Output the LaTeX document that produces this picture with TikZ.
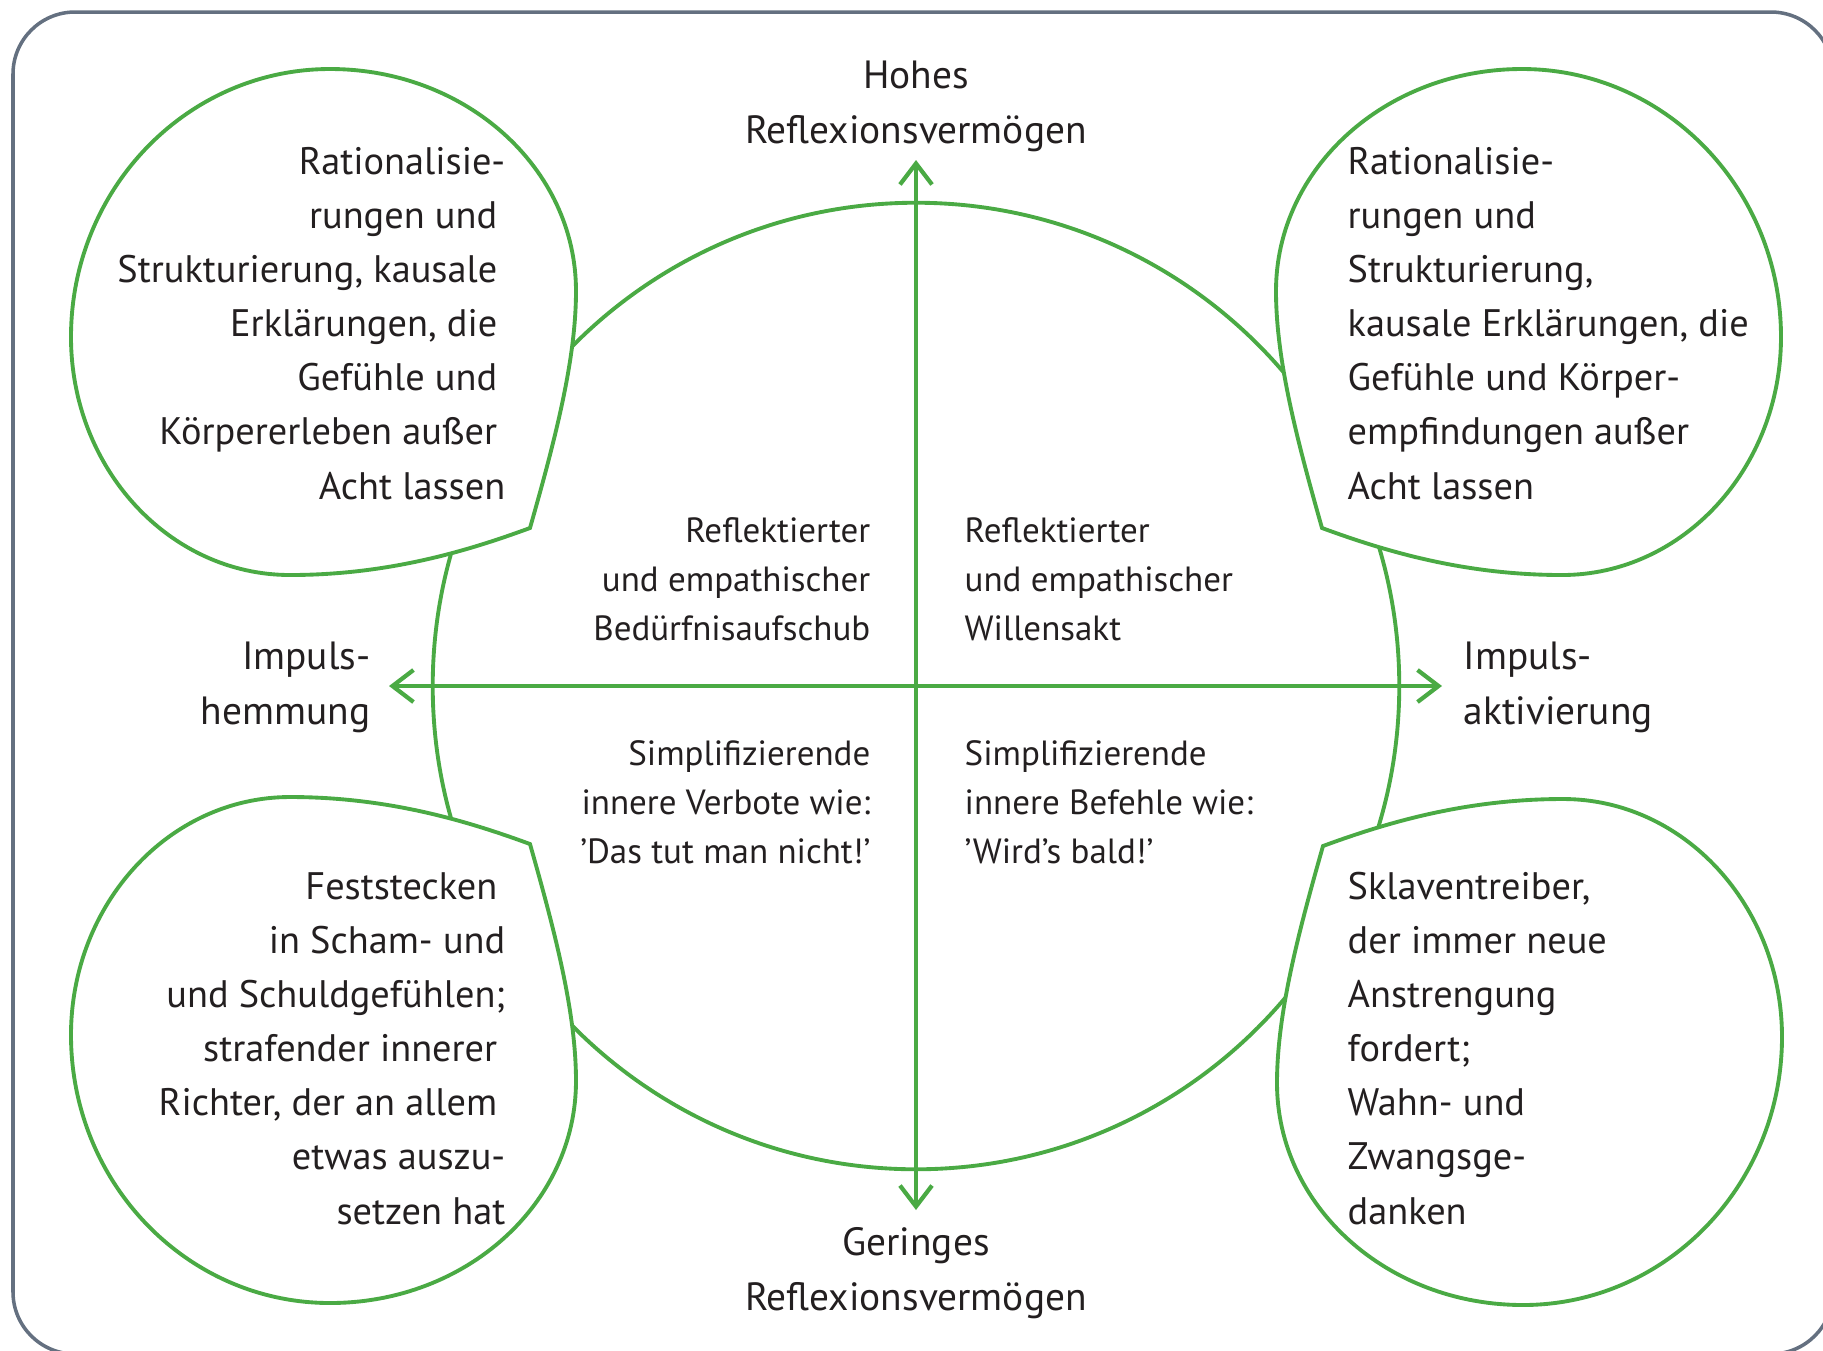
\documentclass[tikz,border=0pt]{standalone}
\usepackage{fontspec}
\setmainfont{PT Sans}
\usetikzlibrary{arrows.meta}

\definecolor{gruen}{RGB}{74,170,68}
\definecolor{rand}{RGB}{100,112,128}
\definecolor{schrift}{RGB}{35,31,32}

% Umriss einer Sprechblase, Spitze im Ursprung
\newcommand{\blase}{(0,0) .. controls (25,-88) and (46,-168) .. (46,-237)
  .. controls (46,-360) and (-64,-459) .. (-200,-459)
  .. controls (-343,-459) and (-459,-339) .. (-459,-191)
  .. controls (-459,-60) and (-361,47) .. (-240,47)
  .. controls (-140,47) and (-60,22) .. (0,0) -- cycle}
\newcommand{\tgap}{\kern.21em}

\begin{document}
\begin{tikzpicture}[x=0.01cm, y=-0.01cm,
  linie/.style = {draw=gruen, line width=1.1pt},
  blasenform/.style = {linie, fill=white},
  achse/.style = {draw=gruen, line width=1.2pt, {Straight Barb[length=2.1mm,width=3.2mm]}-{Straight Barb[length=2.1mm,width=3.2mm]}},
  gross/.style = {font=\fontsize{10.9}{15.4}\selectfont, text=schrift, inner sep=0pt},
  achstext/.style = {font=\fontsize{11.2}{15.4}\selectfont, text=schrift, inner sep=0pt},
  klein/.style = {font=\fontsize{9.95}{13.9}\selectfont, text=schrift, inner sep=0pt}]
  \useasboundingbox (0,0) rectangle (1823,1350);
  \draw[rand, line width=1pt, rounded corners=0.62cm] (13,12) rectangle (1833,1354);

  \node[linie, circle, minimum size=9.66cm, inner sep=0pt] (kreis) at (916,686) {};

  % Blasen
  \foreach \px/\py/\sx/\sy in {530/528/1/1, 530/844/1/-1, 1322/528/-1/1, 1323/846/-1/-1}
    \path[blasenform, shift={(\px,\py)}, xscale=\sx, yscale=\sy] \blase;

  % Achsen
  \coordinate (oben) at (916,160);
  \coordinate (unten) at (916,1210);
  \coordinate (links) at (389,686);
  \coordinate (rechts) at (1442,686);
  \draw[achse] (oben) -- (unten);
  \draw[achse] (links) -- (rechts);

  % base = Grundlinie der letzten Zeile
  \node[achstext, align=center, anchor=base] (hoch) at (916,143) {Hohes\\Reflexionsvermögen};
  \node[achstext, align=center, anchor=base] (tief) at (916,1310) {Geringes\\Reflexionsvermögen};
  \node[achstext, align=right, anchor=base east] (hemm) at (371,724) {Impuls-\\hemmung};
  \node[achstext, align=left, anchor=base west] (aktiv) at (1463,724) {Impuls-\\aktivierung};

  \node[klein, align=right, anchor=base east] (q2) at (871,640) {Reflektierter\\und empathischer\\Bedürfnisaufschub};
  \node[klein, align=left, anchor=base west] (q1) at (964,640) {Reflektierter\\und empathischer\\Willensakt};
  \node[klein, align=right, anchor=base east] (q3) at (871,863) {Simplifizierende\\innere Verbote wie:\\’Das tut man nicht!’};
  \node[klein, align=left, anchor=base west] (q4) at (964,863) {Simplifizierende\\innere Befehle wie:\\’Wird’s bald!’};

  \node[gross, align=right, anchor=base east] (tl) at (506,499) {Rationalisie-\\rungen und\tgap\\Strukturierung, kausale\tgap\\Erklärungen, die\tgap\\Gefühle und\tgap\\Körpererleben außer\tgap\\Acht lassen};
  \node[gross, align=left, anchor=base west] (tr) at (1347,499) {Rationalisie-\\rungen und\\Strukturierung,\\kausale Erklärungen, die\\Gefühle und Körper-\\empfindungen außer\\Acht lassen};
  \node[gross, align=right, anchor=base east] (bl) at (506,1224) {Feststecken\tgap\\in Scham- und\\und Schuldgefühlen;\\strafender innerer\tgap\\Richter, der an allem\tgap\\etwas auszu-\\setzen hat};
  \node[gross, align=left, anchor=base west] (br) at (1347,1224) {Sklaventreiber,\\der immer neue\\Anstrengung\\fordert;\\Wahn- und\\Zwangsge-\\danken};
\end{tikzpicture}
\end{document}
